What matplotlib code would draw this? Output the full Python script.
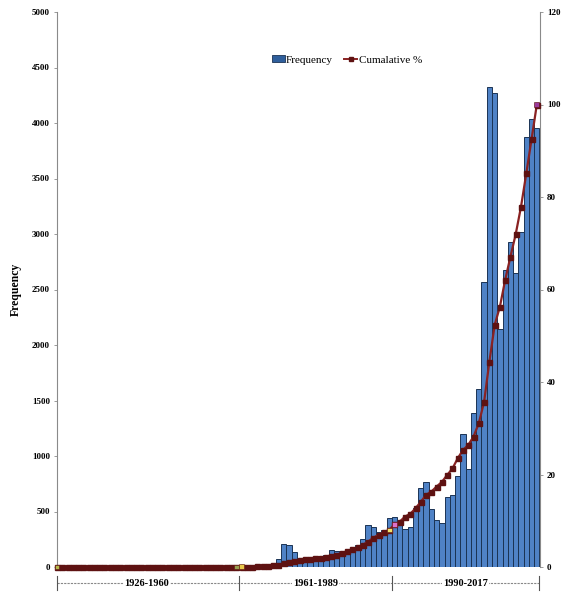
import numpy as np
import matplotlib.pyplot as plt
from matplotlib.lines import Line2D
from matplotlib.patches import Patch

# years 1926..2017, one bar per year
years = np.arange(1926, 2018)

freq = ([0] * 35 +
        [2, 3, 4, 5, 6, 8, 10] +
        [72, 210, 200, 136, 75, 78, 82, 88, 100, 108,
         153, 140, 140, 118, 160, 198, 250, 382, 363, 318, 333,
         444, 453, 385, 340, 357, 532, 712, 769, 526, 423, 395,
         634, 649, 820, 1196, 880, 1385, 1606, 2571, 4321,
         4268, 2140, 2676, 2931, 2652, 3015, 3877, 4033, 3958])

cum_pct = ([0] * 35 +
           [0.05, 0.1, 0.1, 0.15, 0.2, 0.3, 0.4] +
           [0.5, 0.8, 1.1, 1.3, 1.5, 1.7, 1.8, 1.9, 2.0, 2.2,
            2.4, 2.7, 3.0, 3.4, 3.8, 4.3, 4.8, 5.5, 6.3, 7.0, 7.5,
            8.0, 9.2, 9.8, 10.9, 11.5, 12.7, 14.1, 15.6, 16.3, 17.4, 18.4,
            19.9, 21.3, 23.5, 25.3, 26.4, 28.2, 31.1, 35.7, 44.4,
            52.3, 56.3, 62.1, 67.1, 72.0, 77.9, 85.1, 92.5, 100])

# period groups under the x axis
periods = ["1926-1960", "1961-1989", "1990-2017"]
period_first = [1926, 1961, 1990]
period_last = [1960, 1989, 2017]

# odd coloured markers in the original
hl_years = [1926, 1960, 1961, 1989, 1990, 2017]
hl_colors = ["#b5b84a", "#9aa050", "#e8c84a", "#f2e36a", "#e070c8", "#9b3a9b"]

plt.rcParams['font.family'] = ['Liberation Serif', 'DejaVu Serif']

fig = plt.figure(figsize=(5.62, 5.95), dpi=100)
ax = fig.add_axes([57 / 562, 1 - 567 / 595, 483 / 562, 555 / 595])
ax2 = ax.twinx()

x = np.arange(len(years))
ax.bar(x, freq, width=1.0, color="#4f82c6", edgecolor="#1b3354", linewidth=0.7)
ax.set_xlim(0, 91.6)
ax.set_ylim(0, 5000)
ax.set_yticks(np.arange(0, 5001, 500))
ax.set_xticks([])
ax.set_ylabel("Frequency", fontsize=8.5, fontweight='bold', labelpad=7)

ax2.plot(x, cum_pct, color="#8a2222", lw=1.6, marker='s', ms=3.6,
         mfc="#5e1212", mec="#5e1212", zorder=3, clip_on=False)
hx = [list(years).index(y) for y in hl_years]
hy = [cum_pct[i] for i in hx]
ax2.scatter(hx, hy, marker='s', s=12, c=hl_colors, edgecolors="#5e1212",
            linewidths=0.4, zorder=4, clip_on=False)
ax2.set_ylim(0, 120)
ax2.set_yticks(np.arange(0, 121, 20))

for a in (ax, ax2):
    for s in ("top", "bottom"):
        a.spines[s].set_visible(False)
    for s in ("left", "right"):
        a.spines[s].set_color("#8a8a8a")
        a.spines[s].set_linewidth(0.8)
    a.tick_params(axis='y', labelsize=6.5, length=2.5, width=0.6, color="#8a8a8a", pad=2.5)
    for t in a.get_yticklabels():
        t.set_fontweight('bold')
ax.spines["right"].set_visible(False)
ax2.spines["left"].set_visible(False)

# group brackets below the plot
tr = ax.get_xaxis_transform()
yb = -0.029
edges = [0, 34.5, 63.5, 91.4]
ax.plot([edges[0], edges[-1]], [yb, yb], transform=tr, clip_on=False,
        color="#888888", lw=0.8, ls=(0, (2, 1)))
for e in edges:
    ax.plot([e, e], [yb - 0.012, yb + 0.012], transform=tr, clip_on=False,
            color="#555555", lw=0.8)
for lab, a0, a1 in zip(periods, period_first, period_last):
    xc = (list(years).index(a0) + list(years).index(a1)) / 2
    ax.text(xc, yb, lab, transform=tr, ha='center', va='center', fontsize=7.5,
            fontweight='bold', bbox=dict(facecolor='white', edgecolor='none', pad=0.5))

handles = [Patch(facecolor="#2f5f9c", edgecolor="#1b3354", linewidth=0.6),
           Line2D([0], [0], color="#8a2222", lw=1.4, marker='s', ms=3,
                  mfc="#5e1212", mec="#5e1212")]
fig.legend(handles, ["Frequency", "Cumalative %"], ncol=2, frameon=False,
           loc='center left', bbox_to_anchor=(266 / 562, 1 - 60 / 595),
           fontsize=8, handlelength=1.2, handleheight=0.6,
           handletextpad=0.1, columnspacing=1.0, borderpad=0)

fig.savefig("out.png", dpi=100)
